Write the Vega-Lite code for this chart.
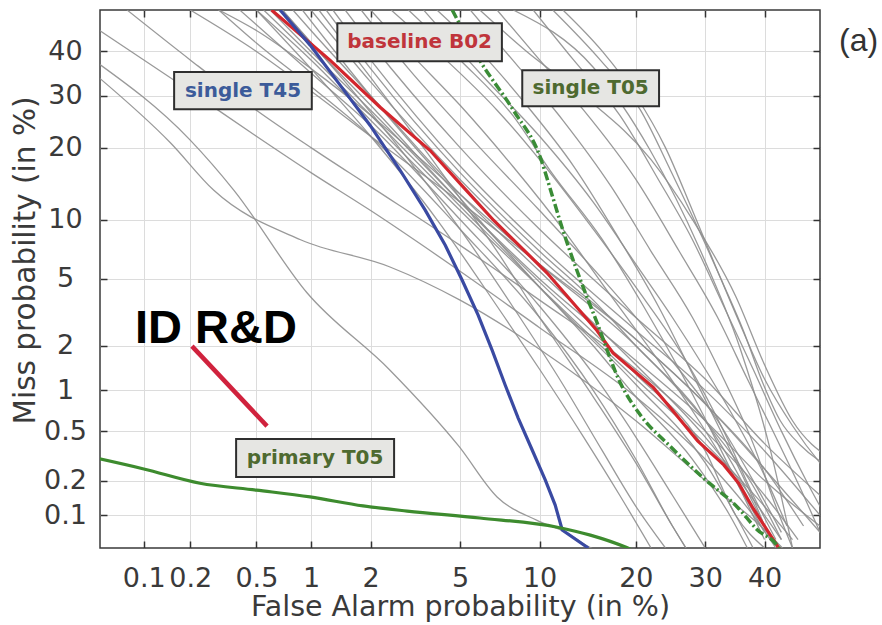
{
  "$schema": "https://vega.github.io/schema/vega-lite/v6.json",
  "width": 720,
  "height": 538,
  "autosize": "none",
  "padding": {"left": 100, "top": 10, "right": 62, "bottom": 77},
  "background": "white",
  "config": {"view": {"stroke": "#3a3a3a", "strokeWidth": 1.5}, "font": "DejaVu Sans"},
  "datasets": {
    "gray": [
      {"c":"t1","fa":0.077,"miss":50},{"c":"t1","fa":0.2,"miss":38},{"c":"t1","fa":0.5,"miss":27},{"c":"t1","fa":1,"miss":20},{"c":"t1","fa":2,"miss":14},{"c":"t1","fa":5,"miss":7.5},{"c":"t1","fa":10,"miss":3.8},{"c":"t1","fa":20,"miss":1.4},{"c":"t1","fa":30,"miss":0.5},{"c":"t1","fa":40,"miss":0.15},{"c":"t1","fa":46,"miss":0.06},
      {"c":"t2","fa":0.2,"miss":50},{"c":"t2","fa":0.5,"miss":40},{"c":"t2","fa":1,"miss":31},{"c":"t2","fa":2,"miss":22},{"c":"t2","fa":5,"miss":12},{"c":"t2","fa":10,"miss":6},{"c":"t2","fa":20,"miss":2.2},{"c":"t2","fa":30,"miss":0.8},{"c":"t2","fa":40,"miss":0.25},{"c":"t2","fa":47,"miss":0.08},
      {"c":"t3","fa":0.3,"miss":50},{"c":"t3","fa":0.5,"miss":45},{"c":"t3","fa":1,"miss":36},{"c":"t3","fa":2,"miss":26},{"c":"t3","fa":5,"miss":13},{"c":"t3","fa":10,"miss":6},{"c":"t3","fa":20,"miss":2},{"c":"t3","fa":30,"miss":0.6},{"c":"t3","fa":38,"miss":0.18},{"c":"t3","fa":43,"miss":0.06},
      {"c":"l1","fa":0.045,"miss":46},{"c":"l1","fa":0.1,"miss":38},{"c":"l1","fa":0.2,"miss":31},{"c":"l1","fa":0.5,"miss":22},{"c":"l1","fa":1,"miss":16},{"c":"l1","fa":2,"miss":11},{"c":"l1","fa":5,"miss":5.5},{"c":"l1","fa":10,"miss":2.6},{"c":"l1","fa":20,"miss":0.9},{"c":"l1","fa":30,"miss":0.3},{"c":"l1","fa":38,"miss":0.1},{"c":"l1","fa":42,"miss":0.05},
      {"c":"l2","fa":0.045,"miss":38},{"c":"l2","fa":0.2,"miss":21.3},{"c":"l2","fa":0.37,"miss":13.5},{"c":"l2","fa":0.95,"miss":4.2},{"c":"l2","fa":2.47,"miss":1.38},{"c":"l2","fa":4.95,"miss":0.38},{"c":"l2","fa":7,"miss":0.145},{"c":"l2","fa":9.8,"miss":0.09},{"c":"l2","fa":12.4,"miss":0.069},{"c":"l2","fa":14.4,"miss":0.052},{"c":"l2","fa":16,"miss":0.045},
      {"c":"l3","fa":0.045,"miss":35},{"c":"l3","fa":0.15,"miss":20.8},{"c":"l3","fa":0.28,"miss":13.5},{"c":"l3","fa":0.88,"miss":8},{"c":"l3","fa":2.47,"miss":5.8},{"c":"l3","fa":5,"miss":3.8},{"c":"l3","fa":10,"miss":1.9},{"c":"l3","fa":20,"miss":0.6},{"c":"l3","fa":30,"miss":0.2},{"c":"l3","fa":40,"miss":0.074},{"c":"l3","fa":44,"miss":0.045},
      {"c":"b1","fa":0.5,"miss":50},{"c":"b1","fa":1,"miss":38},{"c":"b1","fa":2,"miss":25},{"c":"b1","fa":5,"miss":11},{"c":"b1","fa":10,"miss":4.5},{"c":"b1","fa":20,"miss":1.2},{"c":"b1","fa":30,"miss":0.4},{"c":"b1","fa":40,"miss":0.12},{"c":"b1","fa":45,"miss":0.06},
      {"c":"b2","fa":0.6,"miss":50},{"c":"b2","fa":1,"miss":40},{"c":"b2","fa":2,"miss":27},{"c":"b2","fa":5,"miss":12},{"c":"b2","fa":10,"miss":5},{"c":"b2","fa":20,"miss":1.6},{"c":"b2","fa":30,"miss":0.6},{"c":"b2","fa":40,"miss":0.2},{"c":"b2","fa":50,"miss":0.08},
      {"c":"b3","fa":0.8,"miss":50},{"c":"b3","fa":1,"miss":45},{"c":"b3","fa":2,"miss":30},{"c":"b3","fa":5,"miss":13},{"c":"b3","fa":10,"miss":5.5},{"c":"b3","fa":20,"miss":1.5},{"c":"b3","fa":30,"miss":0.45},{"c":"b3","fa":40,"miss":0.1},{"c":"b3","fa":43,"miss":0.06},
      {"c":"b4","fa":0.4,"miss":50},{"c":"b4","fa":1,"miss":35},{"c":"b4","fa":2,"miss":24},{"c":"b4","fa":5,"miss":10},{"c":"b4","fa":10,"miss":3.5},{"c":"b4","fa":15,"miss":1.3},{"c":"b4","fa":20,"miss":0.45},{"c":"b4","fa":25,"miss":0.15},{"c":"b4","fa":30,"miss":0.05},
      {"c":"b5","fa":1,"miss":50},{"c":"b5","fa":2,"miss":33},{"c":"b5","fa":5,"miss":15},{"c":"b5","fa":10,"miss":6.5},{"c":"b5","fa":20,"miss":2.2},{"c":"b5","fa":30,"miss":0.8},{"c":"b5","fa":40,"miss":0.25},{"c":"b5","fa":50,"miss":0.07},
      {"c":"b6","fa":0.7,"miss":50},{"c":"b6","fa":1,"miss":42},{"c":"b6","fa":2,"miss":28},{"c":"b6","fa":5,"miss":12},{"c":"b6","fa":10,"miss":4.8},{"c":"b6","fa":20,"miss":1.3},{"c":"b6","fa":30,"miss":0.35},{"c":"b6","fa":35,"miss":0.1},{"c":"b6","fa":40,"miss":0.05},
      {"c":"b7","fa":1.3,"miss":50},{"c":"b7","fa":2,"miss":38},{"c":"b7","fa":5,"miss":17},{"c":"b7","fa":10,"miss":7.5},{"c":"b7","fa":20,"miss":2.5},{"c":"b7","fa":30,"miss":1},{"c":"b7","fa":40,"miss":0.35},{"c":"b7","fa":50,"miss":0.1},
      {"c":"b8","fa":0.3,"miss":50},{"c":"b8","fa":0.5,"miss":42},{"c":"b8","fa":1,"miss":32},{"c":"b8","fa":2,"miss":22},{"c":"b8","fa":5,"miss":9},{"c":"b8","fa":10,"miss":3},{"c":"b8","fa":15,"miss":1},{"c":"b8","fa":20,"miss":0.3},{"c":"b8","fa":25,"miss":0.08},{"c":"b8","fa":27,"miss":0.05},
      {"c":"b9","fa":0.9,"miss":50},{"c":"b9","fa":2,"miss":30},{"c":"b9","fa":5,"miss":12.5},{"c":"b9","fa":10,"miss":4.5},{"c":"b9","fa":20,"miss":1.1},{"c":"b9","fa":30,"miss":0.28},{"c":"b9","fa":35,"miss":0.1},{"c":"b9","fa":38,"miss":0.05},
      {"c":"b10","fa":1.5,"miss":50},{"c":"b10","fa":2,"miss":42},{"c":"b10","fa":5,"miss":20},{"c":"b10","fa":10,"miss":9},{"c":"b10","fa":20,"miss":3},{"c":"b10","fa":30,"miss":1.2},{"c":"b10","fa":40,"miss":0.4},{"c":"b10","fa":50,"miss":0.15},
      {"c":"b11","fa":0.55,"miss":50},{"c":"b11","fa":1,"miss":39},{"c":"b11","fa":2,"miss":26},{"c":"b11","fa":5,"miss":11.5},{"c":"b11","fa":10,"miss":4.5},{"c":"b11","fa":15,"miss":2},{"c":"b11","fa":20,"miss":0.9},{"c":"b11","fa":28,"miss":0.3},{"c":"b11","fa":34,"miss":0.1},{"c":"b11","fa":37,"miss":0.05},
      {"c":"b12","fa":1.2,"miss":50},{"c":"b12","fa":2,"miss":36},{"c":"b12","fa":5,"miss":16},{"c":"b12","fa":10,"miss":7},{"c":"b12","fa":15,"miss":3.8},{"c":"b12","fa":20,"miss":2},{"c":"b12","fa":30,"miss":0.6},{"c":"b12","fa":36,"miss":0.2},{"c":"b12","fa":40,"miss":0.08},
      {"c":"m1","fa":0.5,"miss":50},{"c":"m1","fa":1,"miss":36},{"c":"m1","fa":2,"miss":22},{"c":"m1","fa":4,"miss":10},{"c":"m1","fa":7,"miss":3.5},{"c":"m1","fa":10,"miss":1.4},{"c":"m1","fa":14,"miss":0.45},{"c":"m1","fa":18,"miss":0.15},{"c":"m1","fa":22,"miss":0.05},
      {"c":"m2","fa":0.7,"miss":50},{"c":"m2","fa":1.5,"miss":33},{"c":"m2","fa":3,"miss":18},{"c":"m2","fa":5,"miss":9},{"c":"m2","fa":8,"miss":3.5},{"c":"m2","fa":12,"miss":1.1},{"c":"m2","fa":16,"miss":0.35},{"c":"m2","fa":20,"miss":0.12},{"c":"m2","fa":24,"miss":0.05},
      {"c":"m3","fa":1.1,"miss":50},{"c":"m3","fa":2,"miss":34},{"c":"m3","fa":4,"miss":17},{"c":"m3","fa":7,"miss":7},{"c":"m3","fa":10,"miss":3},{"c":"m3","fa":15,"miss":0.9},{"c":"m3","fa":20,"miss":0.28},{"c":"m3","fa":25,"miss":0.08},{"c":"m3","fa":27,"miss":0.05},
      {"c":"r1","fa":11.1,"miss":50},{"c":"r1","fa":15.8,"miss":37.9},{"c":"r1","fa":20.6,"miss":27},{"c":"r1","fa":24.7,"miss":16.4},{"c":"r1","fa":29.7,"miss":8},{"c":"r1","fa":32.9,"miss":4.7},{"c":"r1","fa":36.3,"miss":2.5},{"c":"r1","fa":39.8,"miss":1.1},{"c":"r1","fa":42.8,"miss":0.6},{"c":"r1","fa":46.4,"miss":0.39},{"c":"r1","fa":49.5,"miss":0.3},{"c":"r1","fa":55,"miss":0.23},
      {"c":"r2","fa":8.05,"miss":50},{"c":"r2","fa":15,"miss":36.3},{"c":"r2","fa":21.9,"miss":19.5},{"c":"r2","fa":29.2,"miss":7.1},{"c":"r2","fa":35.8,"miss":1.9},{"c":"r2","fa":41,"miss":0.36},{"c":"r2","fa":45,"miss":0.05},
      {"c":"r3","fa":5.5,"miss":50},{"c":"r3","fa":8,"miss":38},{"c":"r3","fa":12,"miss":25},{"c":"r3","fa":17,"miss":14},{"c":"r3","fa":22,"miss":7},{"c":"r3","fa":28,"miss":3},{"c":"r3","fa":33,"miss":1.2},{"c":"r3","fa":38,"miss":0.4},{"c":"r3","fa":42,"miss":0.12},{"c":"r3","fa":45,"miss":0.05},
      {"c":"r4","fa":7,"miss":50},{"c":"r4","fa":10,"miss":38},{"c":"r4","fa":14,"miss":27},{"c":"r4","fa":20,"miss":15},{"c":"r4","fa":26,"miss":7},{"c":"r4","fa":32,"miss":3},{"c":"r4","fa":37,"miss":1.2},{"c":"r4","fa":42,"miss":0.45},{"c":"r4","fa":47,"miss":0.15},{"c":"r4","fa":50,"miss":0.07},
      {"c":"r5","fa":9.5,"miss":50},{"c":"r5","fa":13,"miss":38},{"c":"r5","fa":18,"miss":26},{"c":"r5","fa":23,"miss":15},{"c":"r5","fa":28,"miss":8},{"c":"r5","fa":33,"miss":3.5},{"c":"r5","fa":38,"miss":1.4},{"c":"r5","fa":43,"miss":0.5},{"c":"r5","fa":48,"miss":0.18},{"c":"r5","fa":52,"miss":0.08},
      {"c":"r6","fa":12,"miss":50},{"c":"r6","fa":16,"miss":40},{"c":"r6","fa":20,"miss":30},{"c":"r6","fa":24,"miss":20},{"c":"r6","fa":28,"miss":11},{"c":"r6","fa":32,"miss":5.5},{"c":"r6","fa":36,"miss":2.6},{"c":"r6","fa":40,"miss":1.2},{"c":"r6","fa":45,"miss":0.55},{"c":"r6","fa":50,"miss":0.28},{"c":"r6","fa":55,"miss":0.16},
      {"c":"r7","fa":4,"miss":50},{"c":"r7","fa":6,"miss":40},{"c":"r7","fa":9,"miss":28},{"c":"r7","fa":13,"miss":17},{"c":"r7","fa":18,"miss":8},{"c":"r7","fa":23,"miss":3.5},{"c":"r7","fa":28,"miss":1.3},{"c":"r7","fa":33,"miss":0.45},{"c":"r7","fa":38,"miss":0.14},{"c":"r7","fa":41,"miss":0.06},
      {"c":"r8","fa":3,"miss":50},{"c":"r8","fa":5,"miss":38},{"c":"r8","fa":8,"miss":26},{"c":"r8","fa":11,"miss":16},{"c":"r8","fa":16,"miss":8},{"c":"r8","fa":21,"miss":3.5},{"c":"r8","fa":26,"miss":1.4},{"c":"r8","fa":31,"miss":0.5},{"c":"r8","fa":36,"miss":0.16},{"c":"r8","fa":40,"miss":0.06},
      {"c":"r9","fa":2.5,"miss":50},{"c":"r9","fa":4,"miss":40},{"c":"r9","fa":7,"miss":27},{"c":"r9","fa":10,"miss":18},{"c":"r9","fa":15,"miss":9},{"c":"r9","fa":20,"miss":4.5},{"c":"r9","fa":27,"miss":1.6},{"c":"r9","fa":33,"miss":0.5},{"c":"r9","fa":38,"miss":0.15},{"c":"r9","fa":42,"miss":0.06},
      {"c":"r10","fa":6,"miss":50},{"c":"r10","fa":9,"miss":40},{"c":"r10","fa":14,"miss":30},{"c":"r10","fa":22,"miss":18},{"c":"r10","fa":28,"miss":10},{"c":"r10","fa":35,"miss":4},{"c":"r10","fa":40,"miss":1.5},{"c":"r10","fa":45,"miss":0.6},{"c":"r10","fa":52,"miss":0.3},
      {"c":"r11","fa":3.5,"miss":50},{"c":"r11","fa":6,"miss":35},{"c":"r11","fa":10,"miss":22},{"c":"r11","fa":15,"miss":12},{"c":"r11","fa":20,"miss":6},{"c":"r11","fa":25,"miss":3},{"c":"r11","fa":30,"miss":1.4},{"c":"r11","fa":35,"miss":0.6},{"c":"r11","fa":40,"miss":0.22},{"c":"r11","fa":44,"miss":0.08},
      {"c":"r12","fa":2,"miss":50},{"c":"r12","fa":3,"miss":40},{"c":"r12","fa":5,"miss":28},{"c":"r12","fa":8,"miss":17},{"c":"r12","fa":12,"miss":9},{"c":"r12","fa":17,"miss":4},{"c":"r12","fa":23,"miss":1.6},{"c":"r12","fa":29,"miss":0.6},{"c":"r12","fa":35,"miss":0.2},{"c":"r12","fa":40,"miss":0.07},
      {"c":"r13","fa":1.8,"miss":50},{"c":"r13","fa":3,"miss":36},{"c":"r13","fa":6,"miss":20},{"c":"r13","fa":10,"miss":11},{"c":"r13","fa":16,"miss":5},{"c":"r13","fa":24,"miss":1.8},{"c":"r13","fa":32,"miss":0.6},{"c":"r13","fa":38,"miss":0.2},{"c":"r13","fa":43,"miss":0.07}
    ],
    "main": [
      {"s":"baseline B02","fa":0.61,"miss":50},{"s":"baseline B02","fa":1.26,"miss":37.9},{"s":"baseline B02","fa":2.22,"miss":27.6},{"s":"baseline B02","fa":3.74,"miss":19.5},{"s":"baseline B02","fa":5.3,"miss":13.5},{"s":"baseline B02","fa":6.8,"miss":9.9},{"s":"baseline B02","fa":10.6,"miss":5.4},{"s":"baseline B02","fa":15.4,"miss":2.5},{"s":"baseline B02","fa":17.2,"miss":1.8},{"s":"baseline B02","fa":22.3,"miss":1.05},{"s":"baseline B02","fa":24.7,"miss":0.75},{"s":"baseline B02","fa":28.8,"miss":0.42},{"s":"baseline B02","fa":33,"miss":0.27},{"s":"baseline B02","fa":35.5,"miss":0.19},{"s":"baseline B02","fa":38,"miss":0.115},{"s":"baseline B02","fa":42.3,"miss":0.052},{"s":"baseline B02","fa":43,"miss":0.045},
      {"s":"single T45","fa":0.68,"miss":50},{"s":"single T45","fa":0.99,"miss":41.5},{"s":"single T45","fa":1.415,"miss":32.3},{"s":"single T45","fa":1.99,"miss":24},{"s":"single T45","fa":2.75,"miss":16.35},{"s":"single T45","fa":3.56,"miss":11.04},{"s":"single T45","fa":4.34,"miss":7.51},{"s":"single T45","fa":5.1,"miss":4.92},{"s":"single T45","fa":5.91,"miss":3.1},{"s":"single T45","fa":6.7,"miss":1.875},{"s":"single T45","fa":7.51,"miss":1.09},{"s":"single T45","fa":8.39,"miss":0.628},{"s":"single T45","fa":9.42,"miss":0.356},{"s":"single T45","fa":10.47,"miss":0.202},{"s":"single T45","fa":11.31,"miss":0.123},{"s":"single T45","fa":11.94,"miss":0.0735},{"s":"single T45","fa":14.48,"miss":0.05},
      {"s":"single T05","fa":4.64,"miss":50},{"s":"single T05","fa":6,"miss":37.9},{"s":"single T05","fa":8.05,"miss":27},{"s":"single T05","fa":10.05,"miss":18.4},{"s":"single T05","fa":11.1,"miss":12.6},{"s":"single T05","fa":12,"miss":8.9},{"s":"single T05","fa":13.7,"miss":4.9},{"s":"single T05","fa":15.4,"miss":2.8},{"s":"single T05","fa":18.1,"miss":1.12},{"s":"single T05","fa":20.6,"miss":0.66},{"s":"single T05","fa":24.7,"miss":0.38},{"s":"single T05","fa":29.7,"miss":0.21},{"s":"single T05","fa":35.3,"miss":0.118},{"s":"single T05","fa":38.7,"miss":0.074},{"s":"single T05","fa":42.3,"miss":0.052},{"s":"single T05","fa":43,"miss":0.045},
      {"s":"primary T05","fa":0.045,"miss":0.31},{"s":"primary T05","fa":0.1,"miss":0.25},{"s":"primary T05","fa":0.23,"miss":0.19},{"s":"primary T05","fa":0.5,"miss":0.166},{"s":"primary T05","fa":0.99,"miss":0.145},{"s":"primary T05","fa":1.84,"miss":0.121},{"s":"primary T05","fa":2.96,"miss":0.109},{"s":"primary T05","fa":6,"miss":0.0945},{"s":"primary T05","fa":11.5,"miss":0.078},{"s":"primary T05","fa":14.7,"miss":0.066},{"s":"primary T05","fa":18.7,"miss":0.051},{"s":"primary T05","fa":19.5,"miss":0.048}
    ],
    "boxes": [
      {"label":"baseline B02","x1":1.37,"x2":7.3,"y1":37.7,"y2":46.8},
      {"label":"single T45","x1":0.158,"x2":1.01,"y1":27.2,"y2":35.2},
      {"label":"single T05","x1":8.68,"x2":23.1,"y1":27.8,"y2":35.6},
      {"label":"primary T05","x1":0.381,"x2":2.58,"y1":0.214,"y2":0.434}
    ],
    "logo": [{"t":"ID R&D","x1":0.0873,"y1":2.08,"x2":0.205,"y2":1.99,"x3":0.575,"y3":0.546}],
    "panel": [{"t":"(a)","fa":57,"miss":42.6}]
  },
  "layer": [
    {
      "data": {"name": "gray"},
      "transform": [
        {"calculate": "quantileNormal(datum.fa/100)", "as": "px"},
        {"calculate": "quantileNormal(datum.miss/100)", "as": "py"}
      ],
      "mark": {"type": "line", "clip": true, "color": "#8e8e8e", "strokeWidth": 1.3, "opacity": 0.9, "interpolate": "monotone"},
      "encoding": {
        "x": {"field": "px", "type": "quantitative", "scale": {"domain": [-3.2905, 0], "nice": false, "zero": false},
          "axis": {"orient": "bottom", "values": [-3.0902, -2.8782, -2.5758, -2.3263, -2.0537, -1.6449, -1.2816, -0.8416, -0.5244, -0.2533],
            "labelExpr": "format(cumulativeNormal(datum.value)*100, '.1~f')",
            "grid": true, "gridColor": "#dcdcdc", "gridWidth": 1, "domain": false,
            "ticks": true, "tickSize": -7, "tickColor": "#333333", "tickWidth": 1.5,
            "labelFont": "DejaVu Sans", "labelFontSize": 27, "labelColor": "#3a3a3a", "labelPadding": 24,
            "labelOverlap": false, "labelFlush": false, "labelBound": false,
            "title": "False Alarm probability (in %)", "titleFont": "DejaVu Sans", "titleFontSize": 28.5, "titleFontWeight": "normal",
            "titleColor": "#3a3a3a", "titleY": 58, "titleBaseline": "middle"}},
        "y": {"field": "py", "type": "quantitative", "scale": {"domain": [-3.2905, 0], "nice": false, "zero": false},
          "axis": {"orient": "left", "values": [-3.0902, -2.8782, -2.5758, -2.3263, -2.0537, -1.6449, -1.2816, -0.8416, -0.5244, -0.2533],
            "labelExpr": "format(cumulativeNormal(datum.value)*100, '.1~f')",
            "grid": true, "gridColor": "#dcdcdc", "gridWidth": 1, "domain": false,
            "ticks": true, "tickSize": -7, "tickColor": "#333333", "tickWidth": 1.5,
            "labelFont": "DejaVu Sans", "labelFontSize": 27, "labelColor": "#3a3a3a", "labelPadding": 42,
            "labelAlign": "center", "labelBaseline": "middle",
            "labelOverlap": false, "labelFlush": false, "labelBound": false,
            "title": "Miss probability (in %)", "titleFont": "DejaVu Sans", "titleFontSize": 29.5, "titleFontWeight": "normal",
            "titleColor": "#3a3a3a", "titleX": -75, "titleY": 250, "titleAngle": 270, "titleAlign": "center", "titleBaseline": "middle"}},
        "detail": {"field": "c"}
      }
    },
    {
      "data": {"name": "main"},
      "transform": [
        {"filter": "datum.s === 'baseline B02'"},
        {"calculate": "quantileNormal(datum.fa/100)", "as": "px"},
        {"calculate": "quantileNormal(datum.miss/100)", "as": "py"}
      ],
      "mark": {"type": "line", "clip": true, "color": "#d3262d", "strokeWidth": 3.2},
      "encoding": {
        "x": {"field": "px", "type": "quantitative", "scale": {"domain": [-3.2905, 0], "nice": false, "zero": false},
          "axis": {"orient": "top", "values": [-3.0902, -2.8782, -2.5758, -2.3263, -2.0537, -1.6449, -1.2816, -0.8416, -0.5244, -0.2533],
            "labels": false, "grid": false, "domain": false, "ticks": true, "tickSize": -7, "tickColor": "#333333", "tickWidth": 1.5, "title": null}},
        "y": {"field": "py", "type": "quantitative", "scale": {"domain": [-3.2905, 0], "nice": false, "zero": false},
          "axis": {"orient": "right", "values": [-3.0902, -2.8782, -2.5758, -2.3263, -2.0537, -1.6449, -1.2816, -0.8416, -0.5244, -0.2533],
            "labels": false, "grid": false, "domain": false, "ticks": true, "tickSize": -7, "tickColor": "#333333", "tickWidth": 1.5, "title": null}}
      }
    },
    {
      "data": {"name": "main"},
      "transform": [
        {"filter": "datum.s === 'single T05'"},
        {"calculate": "quantileNormal(datum.fa/100)", "as": "px"},
        {"calculate": "quantileNormal(datum.miss/100)", "as": "py"}
      ],
      "mark": {"type": "line", "clip": true, "color": "#3a8c36", "strokeWidth": 3.5, "strokeDash": [9, 3, 2, 3], "interpolate": "monotone"},
      "encoding": {
        "x": {"field": "px", "type": "quantitative", "scale": {"domain": [-3.2905, 0], "nice": false, "zero": false}, "axis": null},
        "y": {"field": "py", "type": "quantitative", "scale": {"domain": [-3.2905, 0], "nice": false, "zero": false}, "axis": null}
      }
    },
    {
      "data": {"name": "main"},
      "transform": [
        {"filter": "datum.s === 'single T45'"},
        {"calculate": "quantileNormal(datum.fa/100)", "as": "px"},
        {"calculate": "quantileNormal(datum.miss/100)", "as": "py"}
      ],
      "mark": {"type": "line", "clip": true, "color": "#3a4aa2", "strokeWidth": 3.2},
      "encoding": {
        "x": {"field": "px", "type": "quantitative", "scale": {"domain": [-3.2905, 0], "nice": false, "zero": false}, "axis": null},
        "y": {"field": "py", "type": "quantitative", "scale": {"domain": [-3.2905, 0], "nice": false, "zero": false}, "axis": null}
      }
    },
    {
      "data": {"name": "main"},
      "transform": [
        {"filter": "datum.s === 'primary T05'"},
        {"calculate": "quantileNormal(datum.fa/100)", "as": "px"},
        {"calculate": "quantileNormal(datum.miss/100)", "as": "py"}
      ],
      "mark": {"type": "line", "clip": true, "color": "#3d8b2e", "strokeWidth": 3.2, "interpolate": "monotone"},
      "encoding": {
        "x": {"field": "px", "type": "quantitative", "scale": {"domain": [-3.2905, 0], "nice": false, "zero": false}, "axis": null},
        "y": {"field": "py", "type": "quantitative", "scale": {"domain": [-3.2905, 0], "nice": false, "zero": false}, "axis": null}
      }
    },
    {
      "data": {"name": "boxes"},
      "transform": [
        {"calculate": "quantileNormal(datum.x1/100)", "as": "px1"},
        {"calculate": "quantileNormal(datum.x2/100)", "as": "px2"},
        {"calculate": "quantileNormal(datum.y1/100)", "as": "py1"},
        {"calculate": "quantileNormal(datum.y2/100)", "as": "py2"}
      ],
      "mark": {"type": "rect", "fill": "#e6e6e3", "stroke": "#2e2e2e", "strokeWidth": 2},
      "encoding": {
        "x": {"field": "px1", "type": "quantitative", "scale": {"domain": [-3.2905, 0], "nice": false, "zero": false}, "axis": null},
        "x2": {"field": "px2"},
        "y": {"field": "py1", "type": "quantitative", "scale": {"domain": [-3.2905, 0], "nice": false, "zero": false}, "axis": null},
        "y2": {"field": "py2"}
      }
    },
    {
      "data": {"name": "boxes"},
      "transform": [
        {"calculate": "(quantileNormal(datum.x1/100) + quantileNormal(datum.x2/100)) / 2", "as": "pxm"},
        {"calculate": "(quantileNormal(datum.y1/100) + quantileNormal(datum.y2/100)) / 2", "as": "pym"}
      ],
      "mark": {"type": "text", "font": "DejaVu Sans", "fontWeight": "bold", "fontSize": 20, "align": "center", "baseline": "middle"},
      "encoding": {
        "x": {"field": "pxm", "type": "quantitative", "scale": {"domain": [-3.2905, 0], "nice": false, "zero": false}, "axis": null},
        "y": {"field": "pym", "type": "quantitative", "scale": {"domain": [-3.2905, 0], "nice": false, "zero": false}, "axis": null},
        "text": {"field": "label"},
        "color": {"field": "label", "type": "nominal", "legend": null,
          "scale": {"domain": ["baseline B02", "single T45", "single T05", "primary T05"], "range": ["#c0353b", "#3c5b9a", "#4e6a30", "#4e6a30"]}}
      }
    },
    {
      "data": {"name": "logo"},
      "transform": [
        {"calculate": "quantileNormal(datum.x2/100)", "as": "ax"},
        {"calculate": "quantileNormal(datum.y2/100)", "as": "ay"},
        {"calculate": "quantileNormal(datum.x3/100)", "as": "bx"},
        {"calculate": "quantileNormal(datum.y3/100)", "as": "by"}
      ],
      "mark": {"type": "rule", "color": "#d0223d", "strokeWidth": 4.5},
      "encoding": {
        "x": {"field": "ax", "type": "quantitative", "scale": {"domain": [-3.2905, 0], "nice": false, "zero": false}, "axis": null},
        "y": {"field": "ay", "type": "quantitative", "scale": {"domain": [-3.2905, 0], "nice": false, "zero": false}, "axis": null},
        "x2": {"field": "bx"},
        "y2": {"field": "by"}
      }
    },
    {
      "data": {"name": "logo"},
      "transform": [
        {"calculate": "quantileNormal(datum.x1/100)", "as": "tx"},
        {"calculate": "quantileNormal(datum.y1/100)", "as": "ty"}
      ],
      "mark": {"type": "text", "font": "Liberation Sans", "fontWeight": "bold", "fontSize": 47, "align": "left", "baseline": "alphabetic", "color": "#000000"},
      "encoding": {
        "x": {"field": "tx", "type": "quantitative", "scale": {"domain": [-3.2905, 0], "nice": false, "zero": false}, "axis": null},
        "y": {"field": "ty", "type": "quantitative", "scale": {"domain": [-3.2905, 0], "nice": false, "zero": false}, "axis": null},
        "text": {"field": "t"}
      }
    },
    {
      "data": {"name": "panel"},
      "transform": [
        {"calculate": "quantileNormal(datum.fa/100)", "as": "px"},
        {"calculate": "quantileNormal(datum.miss/100)", "as": "py"}
      ],
      "mark": {"type": "text", "font": "Liberation Sans", "fontSize": 32, "align": "center", "baseline": "middle", "color": "#333333"},
      "encoding": {
        "x": {"field": "px", "type": "quantitative", "scale": {"domain": [-3.2905, 0], "nice": false, "zero": false}, "axis": null},
        "y": {"field": "py", "type": "quantitative", "scale": {"domain": [-3.2905, 0], "nice": false, "zero": false}, "axis": null},
        "text": {"field": "t"}
      }
    }
  ],
  "resolve": {"axis": {"x": "independent", "y": "independent"}}
}
